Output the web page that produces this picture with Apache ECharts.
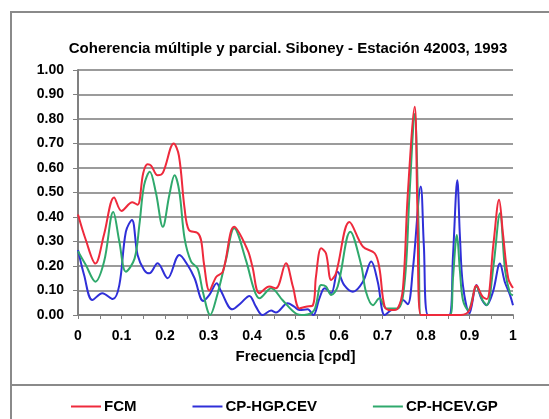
<!DOCTYPE html>
<html>
<head>
<meta charset="utf-8">
<script src="https://cdn.jsdelivr.net/npm/echarts@6/dist/echarts.min.js"></script>
<style>
html,body{margin:0;padding:0;background:#fff;}
#chart{width:549px;height:419px;}
</style>
</head>
<body>
<div id="chart"></div>
<script>
var titleText = 'Coherencia múltiple y parcial. Siboney - Estación 42003, 1993';
var xAxisName = 'Frecuencia [cpd]';
var seriesNames = ['FCM', 'CP-HGP.CEV', 'CP-HCEV.GP'];

var fcmFreq = [0, 0.018, 0.04, 0.06, 0.083, 0.10, 0.125, 0.137, 0.15, 0.16, 0.168, 0.183, 0.195, 0.22, 0.232, 0.245, 0.255, 0.275, 0.283, 0.29, 0.302, 0.318, 0.333, 0.359, 0.39, 0.401, 0.417, 0.44, 0.455, 0.478, 0.494, 0.509, 0.524, 0.54, 0.547, 0.559, 0.57, 0.582, 0.593, 0.624, 0.655, 0.682, 0.693, 0.705, 0.72, 0.735, 0.747, 0.758, 0.774, 0.78, 0.788, 0.88, 0.90, 0.916, 0.93, 0.94, 0.955, 0.968, 0.977, 0.989, 1.0];
var fcmVal  = [0.41, 0.306, 0.21, 0.33, 0.48, 0.425, 0.46, 0.45, 0.58, 0.615, 0.61, 0.57, 0.58, 0.70, 0.65, 0.435, 0.347, 0.335, 0.305, 0.204, 0.10, 0.156, 0.177, 0.36, 0.265, 0.197, 0.089, 0.116, 0.109, 0.211, 0.116, 0.027, 0.034, 0.04, 0.156, 0.272, 0.252, 0.143, 0.17, 0.38, 0.279, 0.252, 0.19, 0.034, 0.02, 0.027, 0.109, 0.49, 0.85, 0.45, 0, 0, 0.02, 0.12, 0.075, 0.065, 0.29, 0.47, 0.33, 0.15, 0.11];

var hgpFreq = [0, 0.014, 0.033, 0.056, 0.08, 0.095, 0.11, 0.124, 0.137, 0.152, 0.164, 0.183, 0.206, 0.233, 0.252, 0.268, 0.288, 0.302, 0.319, 0.328, 0.355, 0.374, 0.394, 0.409, 0.424, 0.444, 0.455, 0.482, 0.497, 0.509, 0.528, 0.541, 0.555, 0.567, 0.582, 0.597, 0.612, 0.632, 0.655, 0.674, 0.689, 0.705, 0.72, 0.735, 0.747, 0.758, 0.77, 0.788, 0.795, 0.805, 0.853, 0.862, 0.872, 0.878, 0.885, 0.90, 0.916, 0.927, 0.939, 0.954, 0.97, 0.981, 0.993, 1.0];
var hgpVal  = [0.265, 0.163, 0.061, 0.089, 0.065, 0.122, 0.34, 0.388, 0.245, 0.184, 0.17, 0.211, 0.15, 0.245, 0.204, 0.15, 0.057, 0.082, 0.13, 0.10, 0.023, 0.048, 0.078, 0.034, 0.0, 0.018, 0.01, 0.048, 0.034, 0.02, 0.023, 0.0, 0.068, 0.109, 0.089, 0.177, 0.122, 0.095, 0.136, 0.218, 0.136, 0, 0.02, 0.027, 0.061, 0.044, 0.19, 0.524, 0.286, 0, 0, 0.24, 0.55, 0.32, 0.12, 0.007, 0.122, 0.068, 0.04, 0.095, 0.21, 0.136, 0.082, 0.04];

var hcevFreq = [0, 0.018, 0.04, 0.06, 0.081, 0.095, 0.11, 0.13, 0.141, 0.152, 0.165, 0.179, 0.195, 0.21, 0.222, 0.233, 0.245, 0.26, 0.275, 0.287, 0.304, 0.318, 0.34, 0.359, 0.386, 0.405, 0.417, 0.444, 0.47, 0.50, 0.52, 0.543, 0.559, 0.57, 0.582, 0.597, 0.626, 0.651, 0.662, 0.678, 0.693, 0.709, 0.735, 0.751, 0.762, 0.774, 0.783, 0.788, 0.855, 0.862, 0.871, 0.878, 0.885, 0.897, 0.916, 0.93, 0.94, 0.955, 0.97, 0.982, 0.993, 1.0];
var hcevVal  = [0.26, 0.204, 0.136, 0.218, 0.42, 0.30, 0.177, 0.23, 0.367, 0.53, 0.585, 0.50, 0.36, 0.49, 0.57, 0.503, 0.313, 0.218, 0.19, 0.095, 0.0, 0.068, 0.224, 0.354, 0.224, 0.102, 0.068, 0.109, 0.061, 0.007, 0, 0.02, 0.122, 0.116, 0.082, 0.116, 0.34, 0.204, 0.095, 0.04, 0.068, 0.027, 0.027, 0.136, 0.49, 0.82, 0.355, 0, 0, 0.15, 0.327, 0.18, 0.06, 0.02, 0.115, 0.06, 0.04, 0.2, 0.415, 0.18, 0.09, 0.08];

var xTicks = [0, 0.1, 0.2, 0.3, 0.4, 0.5, 0.6, 0.7, 0.8, 0.9, 1];

function pairs(fs, vs) { return fs.map(function (f, i) { return [f, vs[i]]; }); }

var FONT = '"Liberation Sans", Arial, sans-serif';
var colors = { fcm: '#ee2a3c', hgp: '#2f2fd8', hcev: '#2fa96c' };

var chart = echarts.init(document.getElementById('chart'), null, { renderer: 'canvas' });
chart.setOption({
  animation: false,
  backgroundColor: '#ffffff',
  graphic: [
    { type: 'rect', shape: { x: 11, y: 12, width: 560, height: 373 }, style: { fill: 'none', stroke: '#8a8a8a', lineWidth: 2 }, z: -1 },
    { type: 'rect', shape: { x: 11, y: 385, width: 560, height: 60 }, style: { fill: 'none', stroke: '#8a8a8a', lineWidth: 2 }, z: -1 }
  ],
  title: {
    text: titleText,
    left: 283, top: 36, textAlign: 'center',
    textStyle: { fontFamily: FONT, fontSize: 15, fontWeight: 'bold', color: '#000' }
  },
  legend: {
    left: 66, top: 394,
    itemWidth: 30, itemHeight: 2, itemGap: 56,
    icon: 'rect',
    data: seriesNames,
    textStyle: { fontFamily: FONT, fontSize: 15, fontWeight: 'bold', color: '#000', padding: [0, 0, 0, -2] }
  },
  grid: { left: 78, right: 36, top: 70, bottom: 104, containLabel: false },
  xAxis: {
    type: 'value', min: 0, max: 1, interval: 0.1,
    name: xAxisName, nameLocation: 'middle', nameGap: 34,
    nameTextStyle: { fontFamily: FONT, fontSize: 15, fontWeight: 'bold', color: '#000' },
    axisLine: { show: true, lineStyle: { color: '#808080', width: 2 } },
    axisTick: { show: true, length: 4, lineStyle: { color: '#808080' } },
    minorTick: { show: true, splitNumber: 2, length: 4, lineStyle: { color: '#808080' } },
    splitLine: { show: false },
    axisLabel: {
      margin: 14, fontFamily: FONT, fontSize: 14, fontWeight: 'bold', color: '#000',
      formatter: function (v) { var r = Math.round(v * 10) / 10; return xTicks.indexOf(r) >= 0 ? String(r) : ''; }
    }
  },
  yAxis: {
    type: 'value', min: 0, max: 1, interval: 0.1,
    axisLine: { show: true, lineStyle: { color: '#808080', width: 2 } },
    axisTick: { show: true, length: 5, lineStyle: { color: '#808080' } },
    splitLine: { show: true, lineStyle: { color: '#7a7a7a', width: 1.5 } },
    axisLabel: {
      margin: 14, fontFamily: FONT, fontSize: 14, fontWeight: 'bold', color: '#000',
      formatter: function (v) { return v.toFixed(2); }
    }
  },
  series: [
    { name: seriesNames[1], type: 'line', data: pairs(hgpFreq, hgpVal), smooth: 0.35, symbol: 'none', clip: true, lineStyle: { color: colors.hgp, width: 2 }, itemStyle: { color: colors.hgp }, z: 2 },
    { name: seriesNames[2], type: 'line', data: pairs(hcevFreq, hcevVal), smooth: 0.35, symbol: 'none', clip: true, lineStyle: { color: colors.hcev, width: 2 }, itemStyle: { color: colors.hcev }, z: 3 },
    { name: seriesNames[0], type: 'line', data: pairs(fcmFreq, fcmVal), smooth: 0.35, symbol: 'none', clip: true, lineStyle: { color: colors.fcm, width: 2 }, itemStyle: { color: colors.fcm }, z: 4 }
  ]
});
</script>
</body>
</html>
